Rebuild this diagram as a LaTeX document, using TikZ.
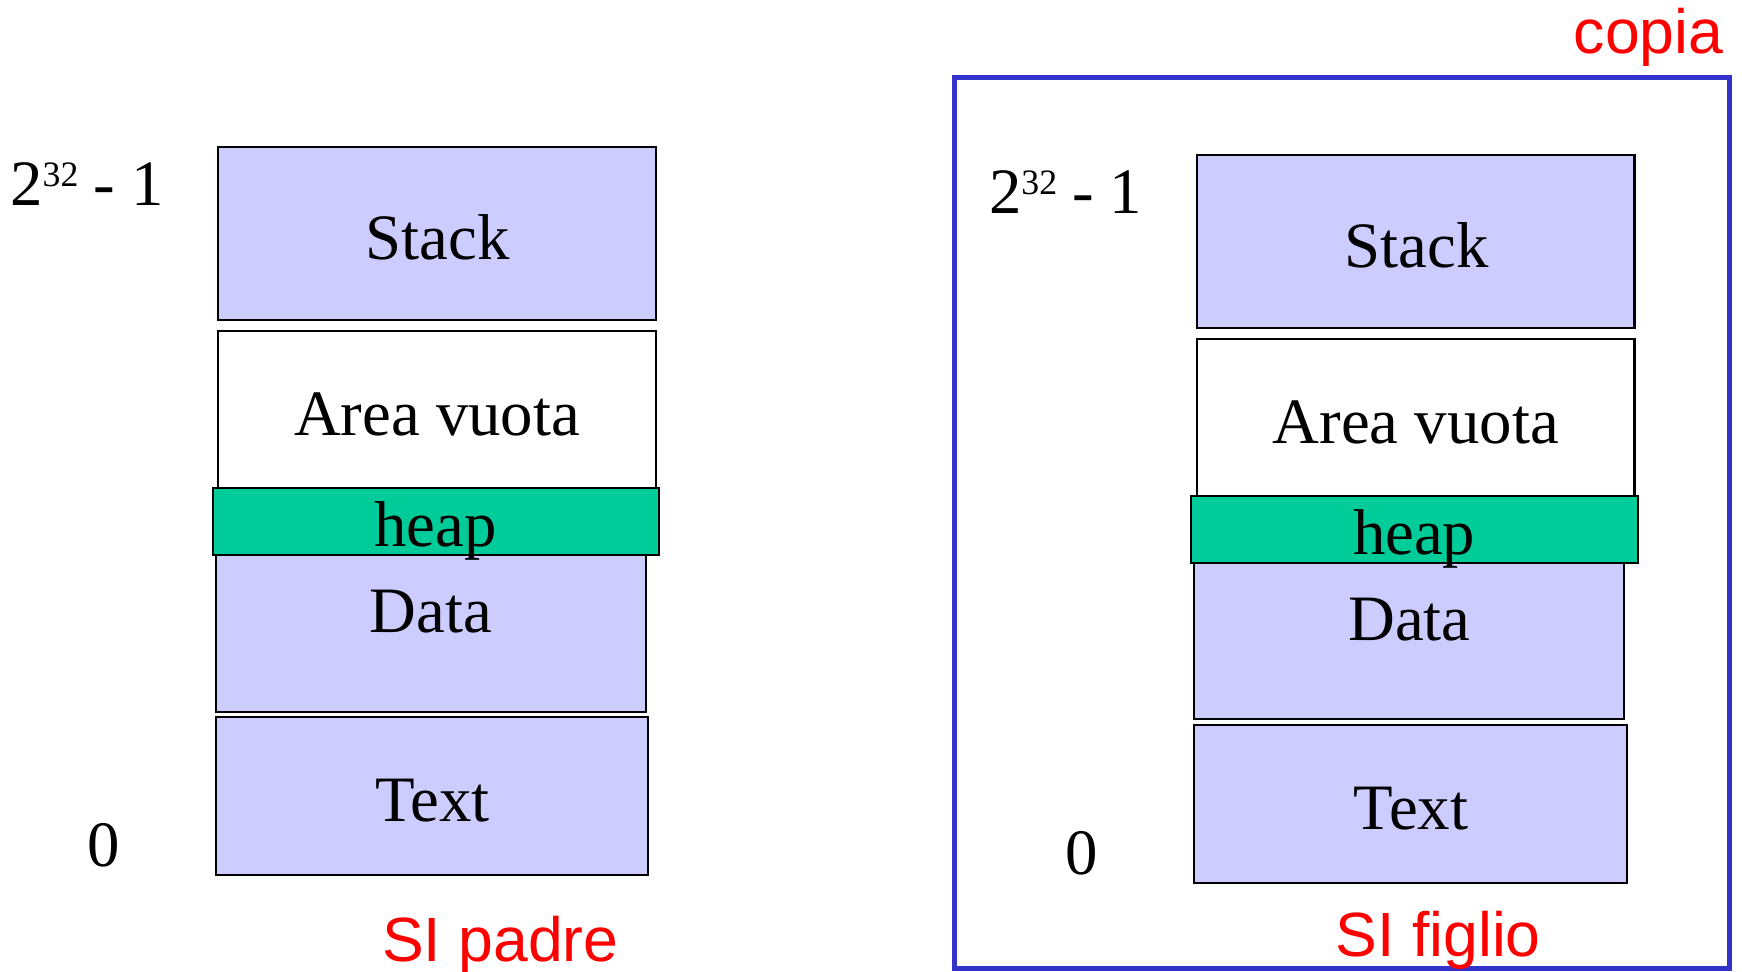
\documentclass[tikz,border=0pt]{standalone}
\usepackage{fontspec}
\setmainfont{Liberation Serif}
\newfontfamily\sifont{Liberation Sans}
\usepackage{tikz}
\usetikzlibrary{positioning}
\definecolor{lilla}{HTML}{CCCCFF}
\definecolor{verde}{HTML}{00CC99}
\definecolor{blu}{HTML}{3333CC}
\tikzset{>=stealth,
  seg/.style={draw, line width=1.9pt, fill=lilla, inner sep=0pt},
  vuota/.style={seg, fill=white},
  heapbox/.style={seg, fill=verde},
  txt/.style={anchor=base, inner sep=0pt, font=\fontsize{58}{60}\selectfont},
  rosso/.style={anchor=base, inner sep=0pt, text=red, font=\sifont\fontsize{56}{60}\selectfont}}
\newcommand{\indirizzo}{2\raisebox{17pt}{\fontsize{32}{34}\selectfont 32}\hspace{-1pt} - 1}

\begin{document}
\begin{tikzpicture}[x=1pt, y=-1pt]
        \useasboundingbox (0,0) rectangle (1560,869.6);
        % SI padre
        \node[seg, minimum width=391.7pt, minimum height=155.2pt] (stackP) at (391.35,209) {};
        \node[vuota, minimum width=391.7pt, minimum height=143.6pt] (areaP) at (391.35,368.2) {};
        \node[seg, minimum width=385.1pt, minimum height=140.3pt] (dataP) at (385.65,567.15) {};
        \node[seg, minimum width=387.5pt, minimum height=141.2pt] (textP) at (386.85,713) {};
        \node[heapbox, minimum width=399.7pt, minimum height=59.7pt] (heapP) at (390.25,467.15) {};
        \node[txt] (stackPt) at (392,232.8) {Stack};
        \node[txt] (areaPt) at (391.35,389.6) {Area vuota};
        \node[txt] (heapPt) at (390,489.6) {heap};
        \node[txt] (dataPt) at (385.8,566.6) {Data};
        \node[txt] (textPt) at (387.3,735.8) {Text};
        \node[txt, anchor=base west] (maxP) at (9,183.6) {\indirizzo};
        \node[txt] (zeroP) at (92.5,776) {0};
        \node[rosso] (padre) at (448.1,861.2) {SI padre};

        % SI figlio
        \node[draw=blu, line width=4.5pt, minimum width=694.5pt, minimum height=798.1pt, inner sep=0pt] (copiaBox) at (1201.75,468.45) {};
        \node[seg, minimum width=391.7pt, minimum height=155.2pt] (stackF) at (1267.85,216.4) {};
        \node[vuota, minimum width=391.7pt, minimum height=143.6pt] (areaF) at (1267.85,375.1) {};
        \node[seg, minimum width=385.1pt, minimum height=140.3pt] (dataF) at (1262.1,574.05) {};
        \node[seg, minimum width=387.5pt, minimum height=141.2pt] (textF) at (1263.2,720.1) {};
        \node[heapbox, minimum width=399.7pt, minimum height=59.7pt] (heapF) at (1266.7,474.05) {};
        \node[txt] (stackFt) at (1268.5,239.7) {Stack};
        \node[txt] (areaFt) at (1267.85,397) {Area vuota};
        \node[txt] (heapFt) at (1266.4,497) {heap};
        \node[txt] (dataFt) at (1262.3,573.7) {Data};
        \node[txt] (textFt) at (1263.6,743.2) {Text};
        \node[txt, anchor=base west] (maxF) at (885.5,191.6) {\indirizzo};
        \node[txt] (zeroF) at (969,783) {0};
        \node[rosso] (figlio) at (1288,856.7) {SI figlio};
        \node[rosso, anchor=base east] (copia) at (1543.5,47.8) {copia};
\end{tikzpicture}
\end{document}
